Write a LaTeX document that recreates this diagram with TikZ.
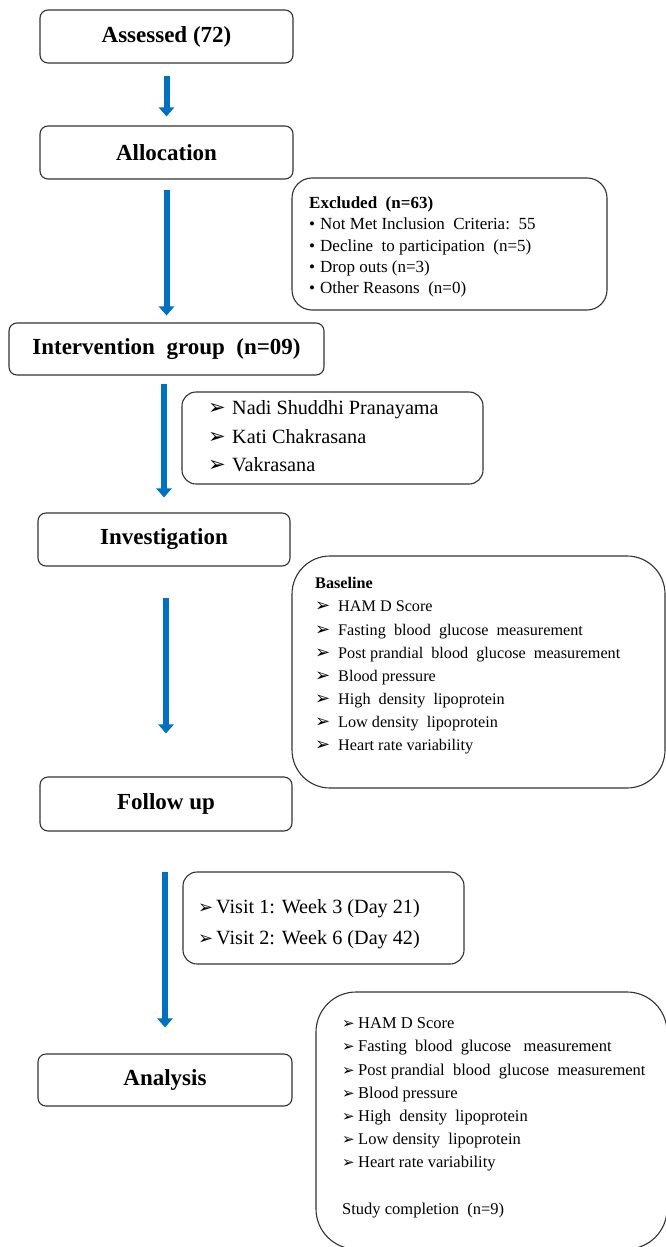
\documentclass[tikz,border=0pt]{standalone}
\usepackage{fontspec}
\setmainfont{Liberation Serif}
\newfontfamily\djv{DejaVu Sans}
\usetikzlibrary{arrows.meta}
\definecolor{arrowblue}{RGB}{0,112,192}
\definecolor{boxline}{RGB}{50,50,50}
\newcommand\abul[2]{\makebox[#2][l]{\djv\fontsize{#1}{#1}\selectfont ➢}}
\newcommand\dbul{\makebox[11pt][l]{•}}
\begin{document}
\begin{tikzpicture}[x=1pt,y=-1pt,
  box/.style={draw=boxline, line width=1.1pt, rounded corners=#1, inner sep=0pt},
  box/.default=8pt,
  title/.style={box, font=\bfseries\fontsize{23}{27}\selectfont},
  txt/.style={anchor=north west, inner sep=0pt, align=left},
  flow/.style={draw=arrowblue, line width=6pt, -{Triangle[width=15pt,length=9pt]}}
]
\clip (0,0) rectangle (666,1247);
% main boxes
\node[title, minimum width=253pt, minimum height=53pt] (assess) at (166.5,36.5) {Assessed (72)};
\node[title, minimum width=253pt, minimum height=53pt] (alloc) at (166.5,152.5) {Allocation};
\node[title, minimum width=315pt, minimum height=52pt] (interv) at (166.5,349) {Intervention\ \ group\ \ (n=09)};
\node[title, minimum width=252pt, minimum height=53pt] (invest) at (164,539.5) {Investigation};
\node[title, minimum width=252pt, minimum height=54pt] (follow) at (166,804) {Follow up};
\node[title, minimum width=254pt, minimum height=52pt] (anal) at (165,1080) {Analysis};
% side boxes
\node[box=20pt, minimum width=315pt, minimum height=132pt] (excl) at (449.5,244) {};
\node[box=14pt, minimum width=301pt, minimum height=92pt] (tech) at (332.5,438) {};
\node[box=38pt, minimum width=373pt, minimum height=232pt] (base) at (478.5,672) {};
\node[box=14pt, minimum width=281pt, minimum height=92pt] (visit) at (323.5,918) {};
\node[box=40pt, minimum width=351pt, minimum height=257pt] (final) at (491.5,1120.5) {};
% side texts
\node[txt, font=\fontsize{17}{21.25}\selectfont] (exclt) at (309,193.6)
 {\strut\textbf{Excluded\ \ (n=63)}\\
  \dbul Not Met Inclusion\ \ Criteria:\ \ 55\\
  \dbul Decline\ \ to participation\ \ (n=5)\\
  \dbul Drop outs (n=3)\\
  \dbul Other Reasons\ \ (n=0)};
\node[txt, font=\fontsize{20.2}{28.5}\selectfont] (techt) at (208,394.5)
 {\strut\abul{21}{24pt}Nadi Shuddhi Pranayama\\
  \abul{21}{24pt}Kati Chakrasana\\
  \abul{21}{24pt}Vakrasana};
\node[txt, font=\fontsize{16.2}{23.15}\selectfont] (baset) at (315,572.3)
 {\strut\textbf{Baseline}\\
  \abul{18}{23pt}HAM D Score\\
  \abul{18}{23pt}Fasting\ \ blood\ \ glucose\ \ measurement\\
  \abul{18}{23pt}Post prandial\ \ blood\ \ glucose\ \ measurement\\
  \abul{18}{23pt}Blood pressure\\
  \abul{18}{23pt}High\ \ density\ \ lipoprotein\\
  \abul{18}{23pt}Low density\ \ lipoprotein\\
  \abul{18}{23pt}Heart rate variability};
\node[txt, font=\fontsize{20.2}{31}\selectfont] (visitt) at (198,891.3)
 {\strut\abul{18}{18pt}Visit 1: Week 3 (Day 21)\\
  \abul{18}{18pt}Visit 2: Week 6 (Day 42)};
\node[txt, font=\fontsize{16.5}{23.2}\selectfont] (finalt) at (342,1012.3)
 {\strut\abul{15}{16pt}HAM D Score\\
  \abul{15}{16pt}Fasting\ \ blood\ \ glucose\ \ \ measurement\\
  \abul{15}{16pt}Post prandial\ \ blood\ \ glucose\ \ measurement\\
  \abul{15}{16pt}Blood pressure\\
  \abul{15}{16pt}High\ \ density\ \ lipoprotein\\
  \abul{15}{16pt}Low density\ \ lipoprotein\\
  \abul{15}{16pt}Heart rate variability\\[23.2pt]
  Study completion\ \ (n=9)};
% arrows
\draw[flow, shorten <=12pt, shorten >=9pt] (assess.south) -- (alloc.north);
\draw[flow, shorten <=10pt, shorten >=7pt] (alloc.south) -- (interv.north);
\draw[flow, shorten <=8pt, shorten >=15pt] (invest.north |- interv.south) -- (invest.north);
\draw[flow, shorten <=31pt, shorten >=43pt] (follow.north |- invest.south) -- (follow.north);
\draw[flow, shorten <=40pt, shorten >=26pt] (anal.north |- follow.south) -- (anal.north);
\end{tikzpicture}
\end{document}
